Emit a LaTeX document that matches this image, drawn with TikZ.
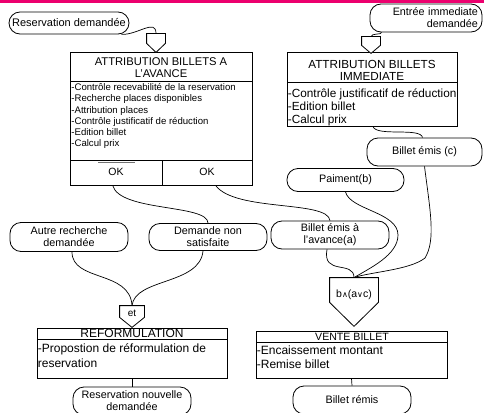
\documentclass[tikz,border=0pt]{standalone}
\usepackage{fontspec}
\setmainfont{Liberation Sans}
\newfontfamily\djv{DejaVu Sans}
\usetikzlibrary{calc}
\definecolor{barpink}{RGB}{236,0,110}
\tikzset{
  event/.style={draw, fill=white, rounded corners=11pt, inner sep=0pt, align=center,
    font=\fontsize{10.8}{12}\selectfont},
  boxnode/.style={draw, fill=white, inner sep=0pt},
  ttl/.style={inner sep=0pt, align=center},
  bodytxt/.style={inner sep=0pt, align=left, anchor=north west},
  pentnode/.style={inner sep=0pt},
  wire/.style={draw, line width=0.7pt},
}
\begin{document}
\begin{tikzpicture}[x=1pt,y=-1pt,line width=0.8pt]
\clip (0,0) rectangle (484,412);
\fill[white] (0,0) rectangle (484,412);

% ---------- events ----------
\node[event, minimum width=120pt, minimum height=22pt, font=\fontsize{11}{12}\selectfont] (rd) at (69,23) {Reservation demandée};
\node[event, minimum width=112pt, minimum height=28pt, text width=104pt, align=right] (eid) at (426,18) {Entrée immediate\\demandée};
\node[event, minimum width=115pt, minimum height=28pt] (bc) at (424.5,152) {Billet émis (c)};
\node[event, minimum width=117pt, minimum height=23pt] (pai) at (345.5,180) {Paiment(b)};
\node[event, minimum width=118pt, minimum height=28pt] (bea) at (330,235) {Billet émis à\\l'avance(a)};
\node[event, minimum width=118pt, minimum height=29pt] (ard) at (69,237) {Autre recherche\\demandée};
\node[event, minimum width=118pt, minimum height=27pt] (dns) at (208,237) {Demande non\\satisfaite};
\node[event, minimum width=118pt, minimum height=28pt] (rnd) at (132,401) {Reservation nouvelle\\demandée};
\node[event, minimum width=118pt, minimum height=28pt] (brm) at (352,400) {Billet rémis};

% ---------- box A ----------
\node[boxnode, minimum width=182pt, minimum height=133pt] (bA) at (161,118.5) {};
\draw (70,81) -- (252,81);
\draw (70,160) -- (252,160);
\draw (162,160) -- (162,185);
\draw[line width=0.9pt, black!55] (98,162) -- (135,162);
\node[ttl, font=\fontsize{11.2}{11.5}\selectfont] (tA) at (161,67.5) {ATTRIBUTION BILLETS A\\L'AVANCE};
\node[bodytxt, font=\fontsize{9.6}{11.3}\selectfont] (xA) at (71,83) {-Contrôle recevabilité de la reservation\\-Recherche places disponibles\\-Attribution places\\-Contrôle justificatif de réduction\\-Edition billet\\-Calcul prix};
\node[font=\fontsize{10.5}{12}\selectfont, inner sep=0pt] (ok1) at (116,172) {OK};
\node[font=\fontsize{10.5}{12}\selectfont, inner sep=0pt] (ok2) at (207,172) {OK};

% ---------- box B ----------
\node[boxnode, minimum width=170pt, minimum height=74pt] (bB) at (372,89) {};
\draw (287,82) -- (457,82);
\node[ttl, font=\fontsize{11.7}{12}\selectfont] (tB) at (372,70) {ATTRIBUTION BILLETS\\IMMEDIATE};
\node[bodytxt, font=\fontsize{11.8}{13}\selectfont] (xB) at (287.5,88.5) {-Contrôle justificatif de réduction\\-Edition billet\\-Calcul prix};

% ---------- REFORMULATION ----------
\node[boxnode, minimum width=190pt, minimum height=50pt] (bR) at (132,353) {};
\draw (37,339) -- (227,339);
\node[ttl, font=\fontsize{12}{12}\selectfont] (tR) at (132,333.5) {REFORMULATION};
\node[bodytxt, font=\fontsize{12}{15}\selectfont] (xR) at (37.5,343.5) {-Propostion de réformulation de\\reservation};

% ---------- VENTE BILLET ----------
\node[boxnode, minimum width=191pt, minimum height=47pt] (bV) at (351.5,354.5) {};
\draw (256,342) -- (447,342);
\node[ttl, font=\fontsize{10.6}{12}\selectfont] (tV) at (352,337) {VENTE BILLET};
\node[bodytxt, font=\fontsize{12}{14}\selectfont] (xV) at (256.5,345.5) {-Encaissement montant\\-Remise billet};

% ---------- synchro pentagons ----------
\node[pentnode, minimum width=18pt, minimum height=9pt] (pA) at (156,38.5) {};
\draw[fill=white] (pA.north west) -- (pA.north east) -- (pA.south east) -- ($(pA.south)+(0,9)$) -- (pA.south west) -- cycle;
\node[pentnode, minimum width=18pt, minimum height=8pt] (pB) at (371,41) {};
\draw[fill=white] (pB.north west) -- (pB.north east) -- (pB.south east) -- ($(pB.south)+(0,8)$) -- (pB.south west) -- cycle;
\node[pentnode, minimum width=24pt, minimum height=11pt] (pE) at (132,311.5) {};
\draw[fill=white] (pE.north west) -- (pE.north east) -- (pE.south east) -- ($(pE.south)+(0,10)$) -- (pE.south west) -- cycle;
\node[font=\fontsize{10}{12}\selectfont, inner sep=0pt] (tE) at (132,313) {et};
\node[pentnode, minimum width=48pt, minimum height=24pt] (pV) at (354,290) {};
\draw[fill=white] (pV.north west) -- (pV.north east) -- (pV.south east) -- ($(pV.south)+(0,24)$) -- (pV.south west) -- cycle;
\node[font=\fontsize{10.5}{12}\selectfont, inner sep=0pt] (tVv) at (354,295) {b{\djv\fontsize{8}{10}\selectfont ∧}(a{\djv\fontsize{8}{10}\selectfont ∨}c)};

% ---------- connectors ----------
\draw[wire] ($(rd.south east)+(-8,0)$) .. controls (138,35) and (156,18) .. (pA.north);
\draw[wire] ($(eid.south west)+(12,0)$) .. controls (382,35) and (371,33) .. (pB.north);
\draw[wire] ($(bB.south)+(1,0)$) .. controls (376,137) and (421,127) .. ($(bc.north)+(-2,0)$);
\draw[wire] ($(bA.south west)+(43,0)$) .. controls (120,212) and (208,204) .. (dns.north);
\draw[wire] ($(bA.south west)+(146,0)$) .. controls (235,212) and (328,200) .. (bea.north);
\draw[wire] ($(ard.south)+(3,0)$) .. controls (72,282) and (130,270) .. (pE.north);
\draw[wire] ($(dns.south)+(-5,0)$) .. controls (200,285) and (135,278) .. (pE.north);
\draw[wire] ($(bea.south)+(-3,0)$) .. controls (322,276) and (354,260) .. (pV.north);
\draw[wire] (pai.south) .. controls (350,210) and (398,212) .. (398,235) .. controls (398,255) and (370,268) .. (pV.north);
\draw[wire] (bc.south) .. controls (430,210) and (436,240) .. (425,258) .. controls (410,270) and (370,272) .. (pV.north);
\draw[wire] (bR.south) -- (rnd.north);
\draw[wire] (bV.south) -- (brm.north);

% ---------- top bar ----------
\fill[barpink] (0,0) rectangle (484,3.5);
\end{tikzpicture}
\end{document}
